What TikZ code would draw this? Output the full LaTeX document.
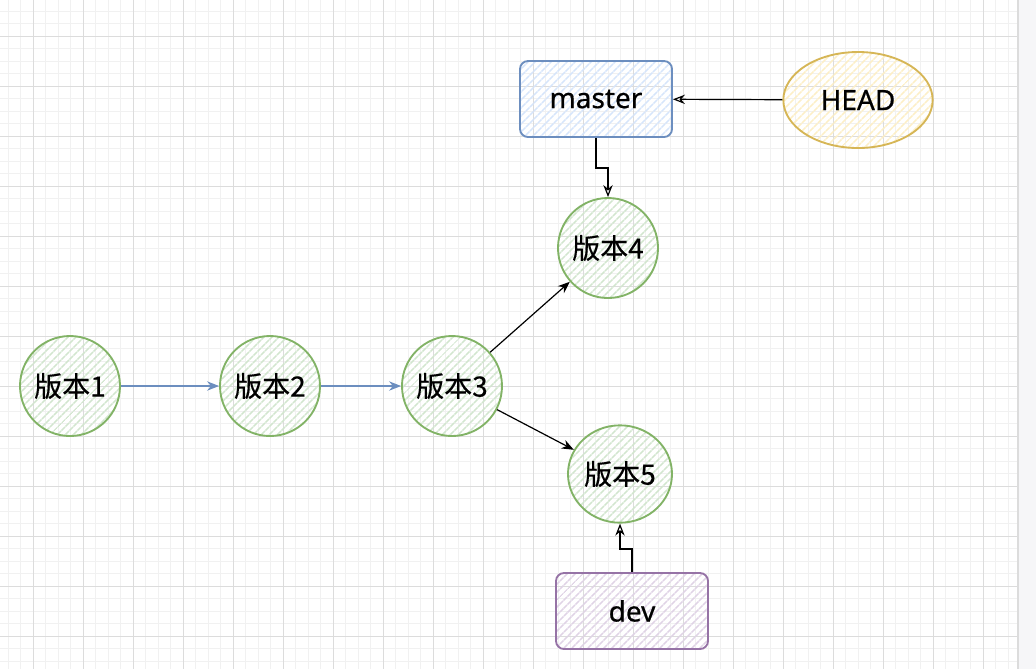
\documentclass[tikz,border=0pt]{standalone}
\usepackage{fontspec}
\setmainfont{Noto Sans}[FakeBold=0.6]
\newfontfamily\cjk{Noto Sans CJK SC}[FakeBold=0.4]
\usetikzlibrary{arrows.meta,patterns.meta,shapes.geometric}
\definecolor{gstroke}{HTML}{82B366}
\definecolor{ghatch}{HTML}{D2E6CE}
\definecolor{bstroke}{HTML}{6C8EBF}
\definecolor{bhatch}{HTML}{D6E5FB}
\definecolor{ystroke}{HTML}{D6B656}
\definecolor{yhatch}{HTML}{FDEFC6}
\definecolor{pstroke}{HTML}{9673A6}
\definecolor{phatch}{HTML}{E0D3E6}
\definecolor{gridminor}{HTML}{F1F1F1}
\definecolor{gridmajor}{HTML}{DCDCDC}
\definecolor{strip}{HTML}{F6F6F8}
\tikzset{
  hatch/.style={pattern={Lines[angle=45,distance=4pt,line width=1.3pt]}, pattern color=#1},
  ver/.style={circle, draw=gstroke, line width=1.4pt, inner sep=0pt, minimum size=75pt,
    hatch=ghatch, font=\fontsize{21pt}{24pt}\cjk},
  refbox/.style={rectangle, rounded corners=6pt, line width=1.4pt, inner sep=0pt,
    minimum width=114pt, minimum height=57pt, font=\fontsize{21pt}{24pt}\selectfont},
  bluearr/.style={draw=bstroke, line width=1pt, -{Stealth[length=9pt,width=7pt]}},
  blkarr/.style={draw=black, line width=0.9pt, -{Stealth[length=9pt,width=7pt]}},
  openarr/.style={draw=black, line width=0.9pt, -{Stealth[open,length=9pt,width=7pt,fill=white]}},
  minorline/.style={draw=gridminor, line width=0.75pt},
  majorline/.style={draw=gridmajor, line width=0.75pt}
}
\begin{document}
\begin{tikzpicture}[x=0.75pt,y=-0.75pt]
\useasboundingbox (0,0) rectangle (1036,669);
\fill[white] (0,0) rectangle (1036,669);
% grid
\foreach \i in {0,...,80} { \draw[minorline] ({8.33+12.5*\i},0) -- ({8.33+12.5*\i},669); }
\foreach \j in {0,...,52} { \draw[minorline] (0,{11+12.5*\j}) -- (1017,{11+12.5*\j}); }
\foreach \i in {0,...,19} { \draw[majorline] ({33.33+50*\i},0) -- ({33.33+50*\i},669); }
\foreach \j in {0,...,12} { \draw[majorline] (0,{36+50*\j}) -- (1017,{36+50*\j}); }
\fill[strip] (1018,0) rectangle (1036,669);
\draw[gridmajor, line width=0.9pt] (1018,0) -- (1018,669);
% nodes
\node[ver] (v1) at (70,386) {版本1};
\node[ver] (v2) at (270,386) {版本2};
\node[ver] (v3) at (452,386) {版本3};
\node[ver] (v4) at (608,248) {版本4};
\node[ver, ellipse, minimum width=78pt, minimum height=73pt] (v5) at (620,474) {版本5};
\node[refbox, draw=bstroke, hatch=bhatch] (master) at (596,99) {master};
\node[ellipse, draw=ystroke, line width=1.4pt, inner sep=0pt, minimum width=112pt, minimum height=72pt,
  hatch=yhatch, font=\fontsize{21pt}{24pt}\selectfont] (head) at (858,100) {HEAD};
\node[refbox, draw=pstroke, hatch=phatch] (dev) at (632,611) {dev};
% connectors
\draw[bluearr] (v1) -- (v2);
\draw[bluearr] (v2) -- (v3);
\draw[blkarr] (v3) -- (v4);
\draw[blkarr] (v3) -- (v5);
\draw[openarr] (head) -- (master);
\draw[openarr] (master.south) -- ++(0,30) -| (v4.north);
\draw[openarr] (dev.north) -- ++(0,-23) -| (v5.south);
\end{tikzpicture}
\end{document}
